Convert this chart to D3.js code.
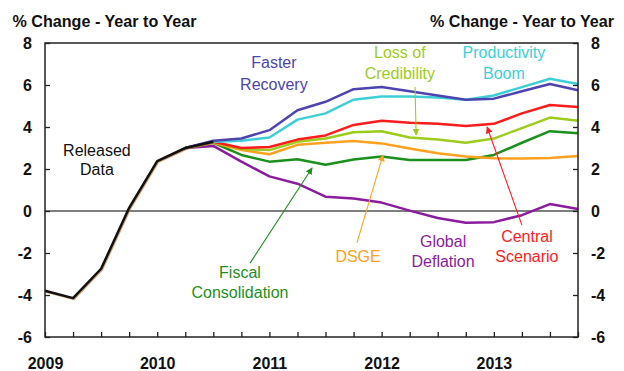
<!DOCTYPE html>
<html>
<head>
<meta charset="utf-8">
<script src="https://cdn.jsdelivr.net/npm/d3@7/dist/d3.min.js"></script>
<style>
  html, body { margin: 0; padding: 0; background: #fff; }
  svg { display: block; }
  text { font-family: "Liberation Sans", Arial, sans-serif; }
</style>
</head>
<body>
<svg id="chart" width="624" height="371"></svg>
<script>
// ---- Data (quarterly, index 0 = 2009 Q1 ... 19 = 2013 Q4) ----
const yearLabels = ["2009", "2010", "2011", "2012", "2013"];
const yTicks = [-6, -4, -2, 0, 2, 4, 6, 8];
const axisTitle = "% Change - Year to Year";

const releasedStart = 0;
const released = [-3.8, -4.15, -2.75, 0.15, 2.38, 3.0, 3.3];

const scenarioStart = 5;
const fasterRecovery   = [3.0, 3.35, 3.45, 3.85, 4.8, 5.2, 5.8, 5.9, 5.7, 5.5, 5.3, 5.35, 5.7, 6.05, 5.75];
const productivityBoom = [3.0, 3.3, 3.35, 3.5, 4.35, 4.65, 5.3, 5.45, 5.45, 5.4, 5.3, 5.5, 5.9, 6.3, 6.05];
const centralScenario  = [3.0, 3.3, 3.0, 3.05, 3.4, 3.6, 4.1, 4.3, 4.2, 4.15, 4.05, 4.15, 4.65, 5.05, 4.95];
const lossOfCredibility= [3.0, 3.3, 2.95, 2.9, 3.3, 3.45, 3.75, 3.8, 3.5, 3.4, 3.25, 3.45, 3.95, 4.45, 4.3];
const dsge             = [3.0, 3.25, 2.9, 2.7, 3.15, 3.25, 3.33, 3.22, 2.98, 2.75, 2.6, 2.51, 2.5, 2.52, 2.62];
const fiscalConsolidation = [3.0, 3.25, 2.67, 2.35, 2.46, 2.2, 2.45, 2.59, 2.43, 2.43, 2.43, 2.67, 3.25, 3.8, 3.7];
const globalDeflation  = [3.0, 3.1, 2.35, 1.65, 1.3, 0.68, 0.6, 0.4, 0.02, -0.33, -0.56, -0.53, -0.2, 0.33, 0.1];

// ---- Layout ----
const svg = d3.select("#chart");
const x = d3.scaleLinear().domain([0, 19]).range([45, 578]);
const y = d3.scaleLinear().domain([-6, 8]).range([337, 43]);
const textCol = "#111";

const series = [
  { name: "Global Deflation", values: globalDeflation, color: "#8B1C9E" },
  { name: "Fiscal Consolidation", values: fiscalConsolidation, color: "#1C901C" },
  { name: "DSGE", values: dsge, color: "#FFA01E" },
  { name: "Loss of Credibility", values: lossOfCredibility, color: "#9CCC1C" },
  { name: "Central Scenario", values: centralScenario, color: "#FF1C1C" },
  { name: "Productivity Boom", values: productivityBoom, color: "#3ECFD6" },
  { name: "Faster Recovery", values: fasterRecovery, color: "#4E44B0" }
];

// zero line
svg.append("line")
  .attr("x1", x(0)).attr("x2", x(19))
  .attr("y1", y(0)).attr("y2", y(0))
  .attr("stroke", "#000").attr("stroke-width", 1.2);

const line = d3.line().x(d => x(d.i)).y(d => y(d.v));

series.forEach(s => {
  const pts = s.values.map((v, k) => ({ i: scenarioStart + k, v }));
  svg.append("path").datum(pts)
    .attr("fill", "none").attr("stroke", s.color)
    .attr("stroke-width", 2.5).attr("stroke-linejoin", "round")
    .attr("d", line);
});

// released data (with faint brown halo)
const relPts = released.map((v, k) => ({ i: releasedStart + k, v }));
svg.append("path").datum(relPts)
  .attr("fill", "none").attr("stroke", "#b8793a").attr("stroke-opacity", 0.7)
  .attr("stroke-width", 2.5).attr("transform", "translate(0.8,0.8)")
  .attr("d", line);
svg.append("path").datum(relPts)
  .attr("fill", "none").attr("stroke", "#111")
  .attr("stroke-width", 2.5).attr("stroke-linejoin", "round")
  .attr("d", line);

// ---- Axes ----
const fmtY = d => (d < 0 ? "-" + Math.abs(d) : String(d));
const left = svg.append("g").attr("transform", `translate(${x(0)},0)`)
  .call(d3.axisLeft(y).tickValues(yTicks).tickSize(-5).tickPadding(13).tickFormat(fmtY));
const right = svg.append("g").attr("transform", `translate(${x(19)},0)`)
  .call(d3.axisRight(y).tickValues(yTicks).tickSize(-5).tickPadding(13).tickFormat(fmtY));
const bottom = svg.append("g").attr("transform", `translate(0,${y(-6)})`)
  .call(d3.axisBottom(x).tickValues(d3.range(0, 20)).tickSize(-5).tickPadding(21)
    .tickFormat(i => (i % 4 === 0 ? yearLabels[i / 4] : "")));

[left, right, bottom].forEach(g => {
  g.select(".domain").remove();
  g.selectAll(".tick line").attr("stroke", "#222").attr("stroke-width", 1.3);
  g.selectAll(".tick text").attr("fill", textCol)
    .style("font-size", "16px").style("font-weight", "bold")
    .style("font-family", "'Liberation Sans', Arial, sans-serif");
});

// frame
svg.append("rect")
  .attr("x", x(0)).attr("y", y(8))
  .attr("width", x(19) - x(0)).attr("height", y(-6) - y(8))
  .attr("fill", "none").attr("stroke", "#222").attr("stroke-width", 1.5);

// axis titles
svg.append("text").attr("x", 12.5).attr("y", 27.3)
  .attr("textLength", 184).attr("lengthAdjust", "spacingAndGlyphs")
  .style("font-size", "17px").style("font-weight", "bold").attr("fill", textCol)
  .text(axisTitle);
svg.append("text").attr("x", 430).attr("y", 27.3)
  .attr("textLength", 184).attr("lengthAdjust", "spacingAndGlyphs")
  .style("font-size", "17px").style("font-weight", "bold").attr("fill", textCol)
  .text(axisTitle);

// ---- Annotations (positioned in data units) ----
const labels = [
  { lines: ["Released", "Data"], xi: 1.85, yv: [2.62, 1.71], color: "#111" },
  { lines: ["Faster", "Recovery"], xi: 8.16, yv: [6.81, 5.76], color: "#4E44B0" },
  { lines: ["Loss of", "Credibility"], xi: 12.65, yv: [7.28, 6.29], color: "#9CCC1C" },
  { lines: ["Productivity", "Boom"], xi: 16.36, yv: [7.28, 6.29], color: "#3ECFD6" },
  { lines: ["Fiscal", "Consolidation"], xi: 6.95, yv: [-3.19, -4.14], color: "#1C901C" },
  { lines: ["DSGE"], xi: 11.16, yv: [-2.43], color: "#FFA01E" },
  { lines: ["Global", "Deflation"], xi: 14.19, yv: [-1.71, -2.67], color: "#8B1C9E" },
  { lines: ["Central", "Scenario"], xi: 17.18, yv: [-1.48, -2.43], color: "#FF1C1C" }
];
labels.forEach(l => {
  l.lines.forEach((t, k) => {
    svg.append("text")
      .attr("x", x(l.xi)).attr("y", y(l.yv[k]))
      .attr("text-anchor", "middle")
      .style("font-size", "16px").attr("fill", l.color)
      .text(t);
  });
});

const arrows = [
  { from: [13.19, 5.90], to: [13.23, 3.62], color: "#9CCC1C" },
  { from: [7.31, -2.48], to: [9.52, 2.05], color: "#1C901C" },
  { from: [11.12, -1.52], to: [12.05, 2.67], color: "#FFA01E" },
  { from: [17.0, -0.67], to: [15.76, 4.0], color: "#FF1C1C" }
];
const defs = svg.append("defs");
arrows.forEach((a, k) => {
  defs.append("marker")
    .attr("id", "arr" + k).attr("viewBox", "0 0 10 10")
    .attr("refX", 9).attr("refY", 5)
    .attr("markerWidth", 7).attr("markerHeight", 7)
    .attr("markerUnits", "userSpaceOnUse")
    .attr("orient", "auto")
    .append("path").attr("d", "M0,0 L10,5 L0,10 Z").attr("fill", a.color);
  svg.append("line")
    .attr("x1", x(a.from[0])).attr("y1", y(a.from[1]))
    .attr("x2", x(a.to[0])).attr("y2", y(a.to[1]))
    .attr("stroke", a.color).attr("stroke-width", 1.1)
    .attr("marker-end", `url(#arr${k})`);
});
</script>
</body>
</html>
